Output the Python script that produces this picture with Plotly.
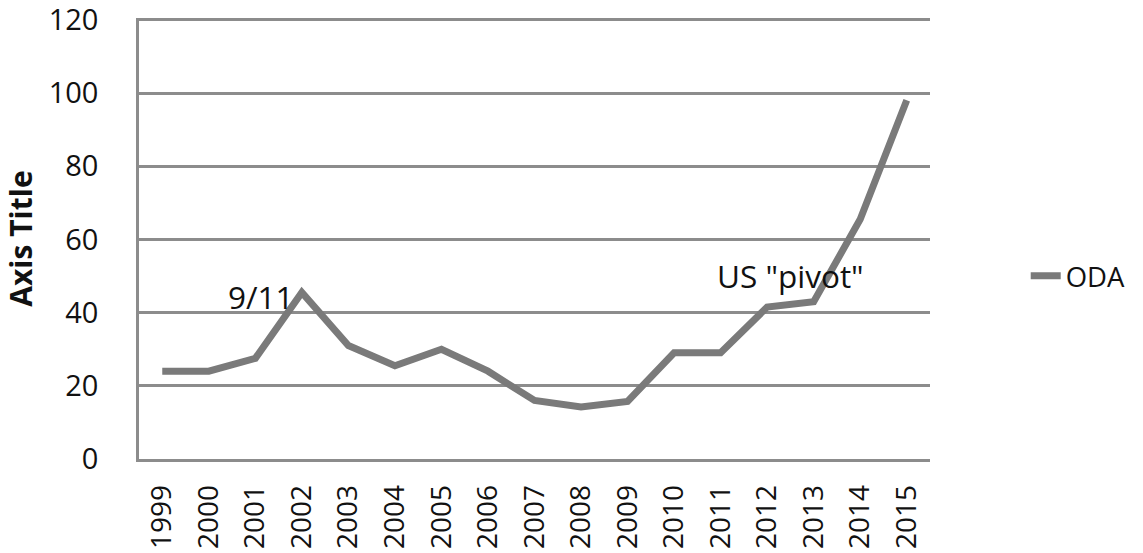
import plotly.graph_objects as go

years = ["1999", "2000", "2001", "2002", "2003", "2004", "2005", "2006", "2007",
         "2008", "2009", "2010", "2011", "2012", "2013", "2014", "2015"]
oda = [24, 24, 27.5, 45.5, 31, 25.5, 30, 24, 16, 14.2, 15.7, 29, 29, 41.5, 43, 65.5, 98]
series_name = "ODA"
y_ticks = [0, 20, 40, 60, 80, 100, 120]
notes = [("9/11", 2.12, 44.4), ('US "pivot"', 13.5, 50.1)]

FONT = "Open Sans"
GRID = "#8c8c8c"
LINE = "#7a7a7a"
TXT = "#111111"

fig = go.Figure()
fig.add_trace(go.Scatter(
    x=years, y=oda, mode="lines", name=series_name,
    line=dict(color=LINE, width=7),
))

for text, xi, yv in notes:
    fig.add_annotation(x=xi, y=yv, xref="x", yref="y", text=text, showarrow=False,
                       xanchor="center", yanchor="middle",
                       font=dict(family=FONT, size=31.5, color=TXT))

fig.update_layout(
    width=1143, height=553,
    margin=dict(l=139, r=205, t=17.5, b=93.7),
    paper_bgcolor="white", plot_bgcolor="white",
    showlegend=True,
    legend=dict(x=1.121, xanchor="left", y=0.415, yanchor="middle",
                font=dict(family=FONT, size=27.5, color=TXT),
                bgcolor="rgba(0,0,0,0)", borderwidth=0),
    font=dict(family=FONT, color=TXT),
)
fig.update_xaxes(
    type="category", range=[-0.5, 16.5], automargin=False,
    showgrid=False, showline=True, linecolor=GRID, linewidth=2.5,
    ticks="", tickangle=-90, ticklabelstandoff=12,
    tickfont=dict(family=FONT, size=28, color=TXT),
)
fig.update_yaxes(
    range=[0, 120.5], tickvals=y_ticks, automargin=False,
    showgrid=True, gridcolor=GRID, gridwidth=2.5,
    zeroline=False, showline=True, linecolor=GRID, linewidth=2.5,
    ticks="", ticklabelstandoff=32, ticklabeloverflow="allow",
    tickfont=dict(family=FONT, size=29, color=TXT),
    title=dict(text="<b>Axis Title</b>", standoff=16,
               font=dict(family=FONT, size=30, color=TXT)),
)

fig.write_html("out.html", config={"displayModeBar": False},
               post_script="document.body.style.margin='0';")
